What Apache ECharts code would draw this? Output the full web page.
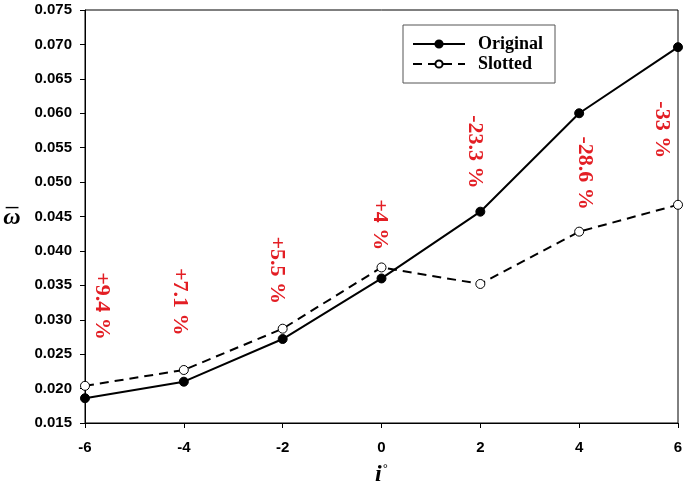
<!DOCTYPE html>
<html><head><meta charset="utf-8">
<script src="https://cdn.jsdelivr.net/npm/echarts@6/dist/echarts.min.js"></script>
<style>html,body{margin:0;padding:0;background:#fff}#c{width:685px;height:485px}</style>
</head><body><div id="c"></div>
<script>
const xValues = [-6, -4, -2, 0, 2, 4, 6];
const originalValues = [0.0186, 0.0210, 0.0272, 0.0360, 0.0457, 0.0600, 0.0696];
const slottedValues = [0.0204, 0.0227, 0.0287, 0.0376, 0.0352, 0.0428, 0.0467];
const annotationText = ['+9.4 %', '+7.1 %', '+5.5 %', '+4 %', '-23.3 %', '-28.6 %', '-33 %'];
const annotationX = [-5.66, -4.08, -2.12, -0.03, 1.89, 4.12, 5.68];
const annotationY = [0.0320, 0.0326, 0.0372, 0.0438, 0.0544, 0.0513, 0.0576];

const chart = echarts.init(document.getElementById('c'), null, {renderer: 'canvas'});
const sans = 'Liberation Sans, Arial, sans-serif';
const serif = 'Liberation Serif, Times New Roman, serif';
chart.setOption({
  animation: false,
  backgroundColor: '#fff',
  grid: {left: 85, right: 7, top: 10, bottom: 62, show: true, borderColor: '#000', borderWidth: 1,
    outerBoundsMode: 'none', containLabel: false},
  legend: {
    left: 403, top: 25, orient: 'vertical',
    padding: [10, 12, 10, 9],
    itemGap: 2,
    borderColor: '#555', borderWidth: 1,
    itemWidth: 52, itemHeight: 9,
    textStyle: {fontFamily: serif, fontWeight: 'bold', fontSize: 18, color: '#000', padding: [0, 0, 0, 8]},
    data: ['Original', 'Slotted']
  },
  xAxis: {
    type: 'value', min: -6, max: 6, interval: 2,
    name: '{i|i}{d|°}', nameLocation: 'middle', nameGap: 40,
    nameTextStyle: {rich: {
      i: {fontFamily: serif, fontStyle: 'italic', fontWeight: 'bold', fontSize: 24, color: '#000'},
      d: {fontFamily: sans, fontSize: 13, color: '#000', verticalAlign: 'top', padding: [0, 0, 10, 1]}
    }},
    axisLine: {onZero: false, lineStyle: {color: '#000', width: 1}},
    axisTick: {show: true, length: 5, lineStyle: {color: '#000'}},
    axisLabel: {fontFamily: sans, fontWeight: 'bold', fontSize: 15, color: '#000', margin: 17},
    splitLine: {show: false}
  },
  yAxis: {
    type: 'value', min: 0.015, max: 0.075, interval: 0.005,
    name: '{o|_}\n{w|ω}', nameLocation: 'middle', nameGap: 73, nameRotate: 0,
    nameTextStyle: {align: 'center', rich: {
      o: {fontFamily: sans, fontSize: 22, color: '#000', lineHeight: 2, align: 'center'},
      w: {fontFamily: serif, fontStyle: 'italic', fontWeight: 'bold', fontSize: 24, color: '#000', lineHeight: 38, align: 'center'}
    }},
    axisLine: {onZero: false, lineStyle: {color: '#000', width: 1}},
    axisTick: {show: true, length: 5, lineStyle: {color: '#000'}},
    axisLabel: {fontFamily: sans, fontWeight: 'bold', fontSize: 15, color: '#000', margin: 13,
      formatter: v => v.toFixed(3)},
    splitLine: {show: false}
  },
  series: [
    {
      name: 'Original', type: 'line',
      data: xValues.map((x, i) => [x, originalValues[i]]),
      symbol: 'circle', symbolSize: 9,
      lineStyle: {color: '#000', width: 2},
      itemStyle: {color: '#000', borderColor: '#000', borderWidth: 1}
    },
    {
      name: 'Slotted', type: 'line',
      data: xValues.map((x, i) => [x, slottedValues[i]]),
      symbol: 'circle', symbolSize: 9,
      lineStyle: {color: '#000', width: 2, type: [9, 6]},
      itemStyle: {color: '#fff', borderColor: '#000', borderWidth: 1}
    },
    {
      name: 'notes', type: 'scatter',
      data: annotationX.map((x, i) => [x, annotationY[i], annotationText[i]]),
      symbolSize: 1, silent: true,
      itemStyle: {opacity: 0},
      label: {
        show: true, position: 'inside', rotate: -90,
        formatter: p => p.data[2],
        textBorderWidth: 0, opacity: 1,
        fontFamily: serif, fontWeight: 'bold', fontSize: 22, color: '#e31e24'
      }
    }
  ]
});
</script></body></html>
